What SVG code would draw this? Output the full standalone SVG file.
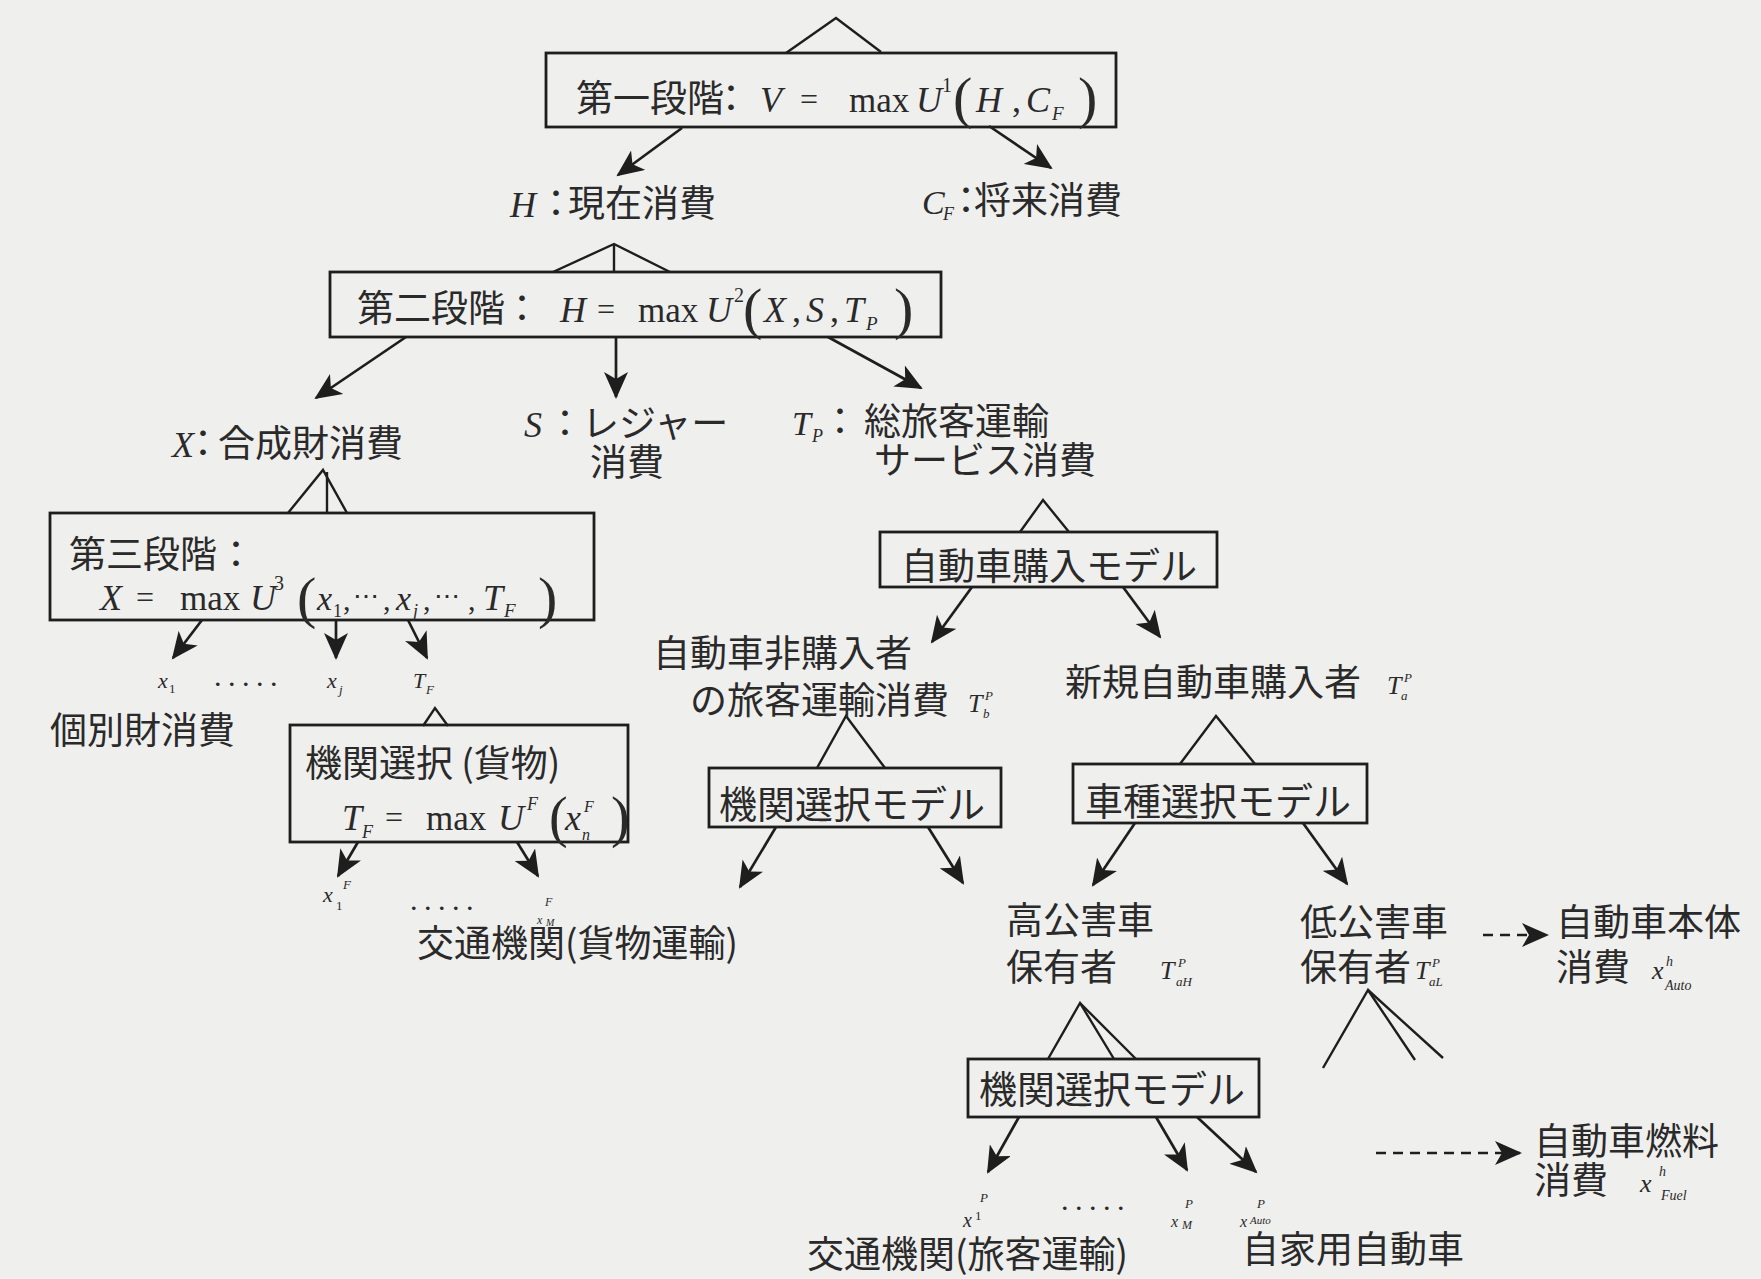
<svg xmlns="http://www.w3.org/2000/svg" width="1761" height="1279" viewBox="0 0 1761 1279">
<style>
.j{font-family:"Noto Sans CJK JP","Noto Sans CJK SC",sans-serif;font-size:37px;fill:#2a2a2a}
.jb{font-family:"Noto Sans CJK JP","Noto Sans CJK SC",sans-serif;font-size:38px;fill:#2a2a2a}
.m{font-family:"Liberation Serif",serif;font-style:italic;fill:#2a2a2a}
.r{font-family:"Liberation Serif",serif;fill:#2a2a2a}
.box{fill:none;stroke:#1e1e1e;stroke-width:2.8}
.ln{fill:none;stroke:#1e1e1e;stroke-width:2.4}
.ar{fill:none;stroke:#1e1e1e;stroke-width:2.7;marker-end:url(#ah)}
.da{fill:none;stroke:#1e1e1e;stroke-width:2.7;stroke-dasharray:10 7;marker-end:url(#ah)}
</style>
<defs>
<marker id="ah" markerUnits="userSpaceOnUse" markerWidth="30" markerHeight="24" refX="25" refY="12" orient="auto">
<path d="M0,0 L27,12 L0,24 L7,12 z" fill="#1e1e1e"/>
</marker>
</defs>
<rect width="1761" height="1279" fill="#efefed"/>

<g id="connectors">
<polyline class="ln" points="786,53 836,18 881,52"/>
<line class="ar" x1="682" y1="128" x2="618" y2="175"/>
<line class="ar" x1="989" y1="126" x2="1051" y2="168"/>
<polyline class="ln" points="553,272 614,244 670,272"/>
<line class="ln" x1="614" y1="244" x2="614" y2="272"/>
<line class="ar" x1="406" y1="337" x2="316" y2="398"/>
<line class="ar" x1="616" y1="337" x2="616" y2="397"/>
<line class="ar" x1="828" y1="337" x2="921" y2="388"/>
<polyline class="ln" points="288,513 323,470 347,513"/>
<line class="ln" x1="327" y1="472" x2="327" y2="513"/>
<line class="ar" x1="202" y1="620" x2="173" y2="658"/>
<line class="ar" x1="336" y1="620" x2="336" y2="658"/>
<line class="ar" x1="408" y1="620" x2="427" y2="658"/>
<polyline class="ln" points="423,726 435,708 448,726"/>
<line class="ar" x1="358" y1="842" x2="338" y2="876"/>
<line class="ar" x1="517" y1="842" x2="538" y2="876"/>
<polyline class="ln" points="1020,532 1043,500 1069,532"/>
<line class="ar" x1="972" y1="587" x2="932" y2="642"/>
<line class="ar" x1="1123" y1="587" x2="1160" y2="637"/>
<polyline class="ln" points="817,768 846,716 885,768"/>
<line class="ar" x1="776" y1="827" x2="740" y2="887"/>
<line class="ar" x1="928" y1="827" x2="963" y2="883"/>
<polyline class="ln" points="1180,764 1216,716 1255,764"/>
<line class="ar" x1="1135" y1="823" x2="1093" y2="885"/>
<line class="ar" x1="1303" y1="823" x2="1347" y2="884"/>
<line class="da" x1="1483" y1="935" x2="1547" y2="935"/>
<polyline class="ln" points="1048,1059 1080,1003 1114,1059"/>
<line class="ln" x1="1080" y1="1003" x2="1136" y2="1059"/>
<polyline class="ln" points="1323,1068 1368,990 1415,1060"/>
<line class="ln" x1="1368" y1="990" x2="1443" y2="1058"/>
<line class="ar" x1="1019" y1="1117" x2="988" y2="1172"/>
<line class="ar" x1="1156" y1="1117" x2="1187" y2="1170"/>
<line class="ar" x1="1197" y1="1117" x2="1256" y2="1172"/>
<line class="da" x1="1376" y1="1153" x2="1520" y2="1153"/>
</g>

<g id="stage1">
<rect class="box" x="546" y="53" width="570" height="74"/>
<text class="j" x="576" y="112">第一段階</text>
<text class="j" x="731" y="112" text-anchor="middle">：</text>
<text class="m" x="760" y="112" font-size="36">V</text>
<text class="r" x="809" y="110" font-size="32" text-anchor="middle">=</text>
<text class="r" x="849" y="112" font-size="35">max</text>
<text class="m" x="916" y="112" font-size="36">U</text>
<text class="r" x="942" y="92" font-size="20">1</text>
<text class="r" x="953" y="117" font-size="58">(</text>
<text class="m" x="976" y="112" font-size="36">H</text>
<text class="r" x="1012" y="112" font-size="36">,</text>
<text class="m" x="1026" y="112" font-size="36">C</text>
<text class="m" x="1052" y="120" font-size="19">F</text>
<text class="r" x="1078" y="117" font-size="58">)</text>
</g>

<g id="H">
<text class="m" x="510" y="217" font-size="36">H</text>
<text class="j" x="556" y="217" text-anchor="middle">：</text>
<text class="j" x="568" y="217">現在消費</text>
</g>

<g id="CF">
<text class="m" x="922" y="214" font-size="34">C</text>
<text class="m" x="943" y="220" font-size="18">F</text>
<text class="j" x="966" y="214" text-anchor="middle">：</text>
<text class="j" x="974" y="214">将来消費</text>
</g>

<g id="stage2">
<rect class="box" x="330" y="272" width="611" height="65"/>
<text class="j" x="357" y="322">第二段階</text>
<text class="j" x="522" y="322" text-anchor="middle">：</text>
<text class="m" x="560" y="322" font-size="36">H</text>
<text class="r" x="606" y="320" font-size="32" text-anchor="middle">=</text>
<text class="r" x="638" y="322" font-size="35">max</text>
<text class="m" x="706" y="322" font-size="36">U</text>
<text class="r" x="734" y="302" font-size="20">2</text>
<text class="r" x="743" y="328" font-size="58">(</text>
<text class="m" x="764" y="322" font-size="36">X</text>
<text class="r" x="792" y="322" font-size="36">,</text>
<text class="m" x="806" y="322" font-size="36">S</text>
<text class="r" x="830" y="322" font-size="36">,</text>
<text class="m" x="844" y="322" font-size="36">T</text>
<text class="m" x="866" y="330" font-size="19">P</text>
<text class="r" x="894" y="328" font-size="58">)</text>
</g>

<g id="X">
<text class="m" x="172" y="457" font-size="36">X</text>
<text class="j" x="203" y="457" text-anchor="middle">：</text>
<text class="j" x="218" y="457">合成財消費</text>
</g>

<g id="S">
<text class="m" x="524" y="437" font-size="36">S</text>
<text class="j" x="565" y="437" text-anchor="middle">：</text>
<text class="j" x="582" y="437">レジャー</text>
<text class="j" x="590" y="476">消費</text>
</g>

<g id="TP">
<text class="m" x="792" y="435" font-size="34">T</text>
<text class="m" x="812" y="442" font-size="18">P</text>
<text class="j" x="840" y="435" text-anchor="middle">：</text>
<text class="j" x="864" y="435">総旅客運輸</text>
<text class="j" x="874" y="474">サービス消費</text>
</g>

<g id="stage3">
<rect class="box" x="50" y="513" width="544" height="107"/>
<text class="j" x="69" y="568">第三段階</text>
<text class="j" x="236" y="568" text-anchor="middle">：</text>
<text class="m" x="100" y="610" font-size="36">X</text>
<text class="r" x="145" y="608" font-size="32" text-anchor="middle">=</text>
<text class="r" x="180" y="610" font-size="35">max</text>
<text class="m" x="250" y="610" font-size="36">U</text>
<text class="r" x="274" y="590" font-size="20">3</text>
<text class="r" x="297" y="617" font-size="58">(</text>
<text class="m" x="317" y="610" font-size="34">x</text>
<text class="r" x="333" y="617" font-size="18">1</text>
<text class="r" x="343" y="610" font-size="30">,</text>
<text class="r" x="353" y="605" font-size="26">⋯</text>
<text class="r" x="383" y="610" font-size="30">,</text>
<text class="m" x="396" y="610" font-size="34">x</text>
<text class="m" x="413" y="617" font-size="18">j</text>
<text class="r" x="423" y="610" font-size="30">,</text>
<text class="r" x="434" y="605" font-size="26">⋯</text>
<text class="r" x="468" y="610" font-size="30">,</text>
<text class="m" x="483" y="610" font-size="36">T</text>
<text class="m" x="504" y="617" font-size="19">F</text>
<text class="r" x="538" y="617" font-size="58">)</text>
</g>

<g id="goods">
<text class="m" x="158" y="688" font-size="22">x</text>
<text class="r" x="169" y="693" font-size="13">1</text>
<text class="r" x="215" y="686" font-size="22" letter-spacing="8.5" font-weight="bold">.....</text>
<text class="m" x="327" y="688" font-size="22">x</text>
<text class="m" x="339" y="694" font-size="13">j</text>
<text class="m" x="413" y="688" font-size="22">T</text>
<text class="m" x="426" y="694" font-size="13">F</text>
<text class="j" x="50" y="744">個別財消費</text>
</g>

<g id="freight">
<rect class="box" x="290" y="725" width="338" height="117"/>
<text class="j" x="305" y="777">機関選択 (貨物)</text>
<text class="m" x="342" y="830" font-size="36">T</text>
<text class="m" x="362" y="838" font-size="18">F</text>
<text class="r" x="394" y="828" font-size="32" text-anchor="middle">=</text>
<text class="r" x="426" y="830" font-size="35">max</text>
<text class="m" x="498" y="830" font-size="36">U</text>
<text class="m" x="527" y="810" font-size="18">F</text>
<text class="r" x="549" y="836" font-size="56">(</text>
<text class="m" x="565" y="830" font-size="36">x</text>
<text class="m" x="584" y="812" font-size="16">F</text>
<text class="m" x="582" y="840" font-size="16">n</text>
<text class="r" x="611" y="836" font-size="56">)</text>
</g>

<g id="freight-modes">
<text class="m" x="323" y="902" font-size="22">x</text>
<text class="m" x="343" y="889" font-size="13">F</text>
<text class="r" x="336" y="910" font-size="13">1</text>
<text class="r" x="411" y="910" font-size="22" letter-spacing="8.5" font-weight="bold">.....</text>
<text class="m" x="545" y="906" font-size="12">F</text>
<text class="m" x="537" y="924" font-size="12">x</text>
<text class="m" x="546" y="926" font-size="10">M</text>
<text class="j" x="417" y="957">交通機関(貨物運輸)</text>
</g>

<g id="car-purchase">
<rect class="box" x="880" y="532" width="337" height="55"/>
<text class="j" x="901" y="580">自動車購入モデル</text>
</g>

<g id="non-purchaser">
<text class="j" x="653" y="667">自動車非購入者</text>
<text class="j" x="690" y="714">の旅客運輸消費</text>
<text class="m" x="968" y="712" font-size="26">T</text>
<text class="m" x="985" y="700" font-size="13">P</text>
<text class="m" x="983" y="718" font-size="13">b</text>
</g>

<g id="new-purchaser">
<text class="j" x="1065" y="696">新規自動車購入者</text>
<text class="m" x="1387" y="694" font-size="26">T</text>
<text class="m" x="1404" y="682" font-size="13">P</text>
<text class="m" x="1401" y="700" font-size="13">a</text>
</g>

<g id="mode-choice-1">
<rect class="box" x="709" y="768" width="292" height="59"/>
<text class="jb" x="719" y="818">機関選択モデル</text>
</g>

<g id="vehicle-choice">
<rect class="box" x="1073" y="764" width="294" height="59"/>
<text class="jb" x="1085" y="815">車種選択モデル</text>
</g>

<g id="high-pollution">
<text class="j" x="1006" y="934">高公害車</text>
<text class="j" x="1006" y="981">保有者</text>
<text class="m" x="1160" y="979" font-size="26">T</text>
<text class="m" x="1178" y="967" font-size="13">P</text>
<text class="m" x="1176" y="986" font-size="13">aH</text>
</g>

<g id="low-pollution">
<text class="j" x="1300" y="936">低公害車</text>
<text class="j" x="1300" y="981">保有者</text>
<text class="m" x="1415" y="979" font-size="26">T</text>
<text class="m" x="1432" y="967" font-size="13">P</text>
<text class="m" x="1429" y="986" font-size="13">aL</text>
</g>

<g id="car-body">
<text class="j" x="1556" y="936">自動車本体</text>
<text class="j" x="1556" y="981">消費</text>
<text class="m" x="1652" y="979" font-size="26">x</text>
<text class="m" x="1666" y="966" font-size="14">h</text>
<text class="m" x="1665" y="990" font-size="14">Auto</text>
</g>

<g id="mode-choice-2">
<rect class="box" x="968" y="1059" width="291" height="58"/>
<text class="jb" x="979" y="1103">機関選択モデル</text>
</g>

<g id="passenger-modes">
<text class="m" x="963" y="1227" font-size="20">x</text>
<text class="r" x="975" y="1220" font-size="13">1</text>
<text class="m" x="980" y="1202" font-size="13">P</text>
<text class="r" x="1062" y="1210" font-size="22" letter-spacing="8.5" font-weight="bold">.....</text>
<text class="m" x="1185" y="1208" font-size="13">P</text>
<text class="m" x="1171" y="1227" font-size="16">x</text>
<text class="m" x="1182" y="1229" font-size="12">M</text>
<text class="m" x="1257" y="1208" font-size="13">P</text>
<text class="m" x="1240" y="1227" font-size="16">x</text>
<text class="m" x="1250" y="1224" font-size="11">Auto</text>
<text class="j" x="807" y="1268">交通機関(旅客運輸)</text>
<text class="j" x="1242" y="1263">自家用自動車</text>
</g>

<g id="car-fuel">
<text class="j" x="1534" y="1155" font-size="40">自動車燃料</text>
<text class="j" x="1534" y="1194" font-size="40">消費</text>
<text class="m" x="1640" y="1192" font-size="26">x</text>
<text class="m" x="1659" y="1176" font-size="14">h</text>
<text class="m" x="1661" y="1200" font-size="14">Fuel</text>
</g>
</svg>
